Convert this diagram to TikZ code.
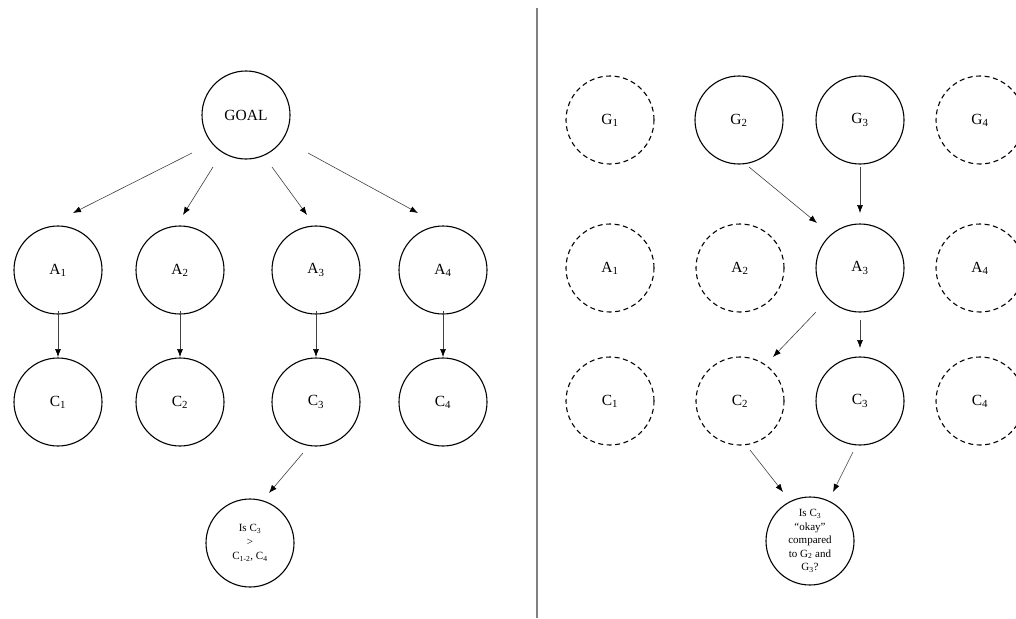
\documentclass[tikz,border=0pt]{standalone}
\usepackage{fontspec}
\setmainfont{Liberation Serif}
\usetikzlibrary{arrows.meta,calc}
\begin{document}
\begin{tikzpicture}[x=1pt,y=-1pt,
  state/.style={circle,draw,line width=1.1pt,minimum size=88pt,inner sep=0pt,font=\fontsize{15.5}{18}\selectfont},
  ghost/.style={state,dash pattern=on 5pt off 3.5pt},
  query/.style={state,align=center,font=\fontsize{11}{13.5}\selectfont},
  link/.style={-{Latex[length=8pt,width=6pt,color=black]},line width=0.6pt,draw=black!75}]
  \useasboundingbox (0,0) rectangle (1016,618);
  % left: one goal, its actions and their consequences
  \node[state] (goal) at (246,115) {GOAL};
  \node[state] (la1) at (58,270) {A\textsubscript{1}};
  \node[state] (la2) at (180,270) {A\textsubscript{2}};
  \node[state] (la3) at (316,270) {A\textsubscript{3}};
  \node[state] (la4) at (443,270) {A\textsubscript{4}};
  \node[state] (lc1) at (58,402) {C\textsubscript{1}};
  \node[state] (lc2) at (180,402) {C\textsubscript{2}};
  \node[state] (lc3) at (316,402) {C\textsubscript{3}};
  \node[state] (lc4) at (443,402) {C\textsubscript{4}};
  \node[query,font=\fontsize{11}{14}\selectfont] (lq) at (250,543) {Is C\textsubscript{3}\\>\\C\textsubscript{1-2}, C\textsubscript{4}};
  \draw[link] ($(goal)+(-54,38)$) -- ($(la1)+(15,-57)$);
  \draw[link] ($(goal)+(-33,52)$) -- ($(la2)+(3,-55)$);
  \draw[link] ($(goal)+(26,52)$) -- ($(la3)+(-9,-55)$);
  \draw[link] ($(goal)+(62,38)$) -- ($(la4)+(-25,-57)$);
  \draw[link] ($(la1)+(0,41)$) -- ($(lc1)+(0,-45)$);
  \draw[link] ($(la2)+(0,41)$) -- ($(lc2)+(0,-45)$);
  \draw[link] ($(la3)+(0,41)$) -- ($(lc3)+(0,-45)$);
  \draw[link] ($(la4)+(0,41)$) -- ($(lc4)+(0,-45)$);
  \draw[link] ($(lc3)+(-13,51)$) -- ($(lq)+(19,-50)$);
  % separator
  \draw[gray,line width=1.5pt] (537,8) -- (537,618);
  % right: several goals, one action
  \node[ghost] (rg1) at (610,120) {G\textsubscript{1}};
  \node[state] (rg2) at (739,120) {G\textsubscript{2}};
  \node[state] (rg3) at (860,120) {G\textsubscript{3}};
  \node[ghost] (rg4) at (980,120) {G\textsubscript{4}};
  \node[ghost] (ra1) at (610,268) {A\textsubscript{1}};
  \node[ghost] (ra2) at (740,268) {A\textsubscript{2}};
  \node[state] (ra3) at (860,268) {A\textsubscript{3}};
  \node[ghost] (ra4) at (980,268) {A\textsubscript{4}};
  \node[ghost] (rc1) at (610,401) {C\textsubscript{1}};
  \node[ghost] (rc2) at (740,401) {C\textsubscript{2}};
  \node[state] (rc3) at (860,401) {C\textsubscript{3}};
  \node[ghost] (rc4) at (980,401) {C\textsubscript{4}};
  \node[query] (rq) at (810,541) {Is C\textsubscript{3}\\“okay”\\compared\\to G\textsubscript{2} and\\G\textsubscript{3}?};
  \draw[link] ($(rg2)+(10,47)$) -- ($(ra3)+(-43,-45)$);
  \draw[link] ($(rg3)+(0,47)$) -- ($(ra3)+(0,-55)$);
  \draw[link] ($(ra3)+(-44,44)$) -- ($(rc2)+(33,-44)$);
  \draw[link] ($(ra3)+(0,52)$) -- ($(rc3)+(0,-53)$);
  \draw[link] ($(rc2)+(10,49)$) -- ($(rq)+(-27,-49)$);
  \draw[link] ($(rc3)+(-7,51)$) -- ($(rq)+(23,-49)$);
\end{tikzpicture}
\end{document}
